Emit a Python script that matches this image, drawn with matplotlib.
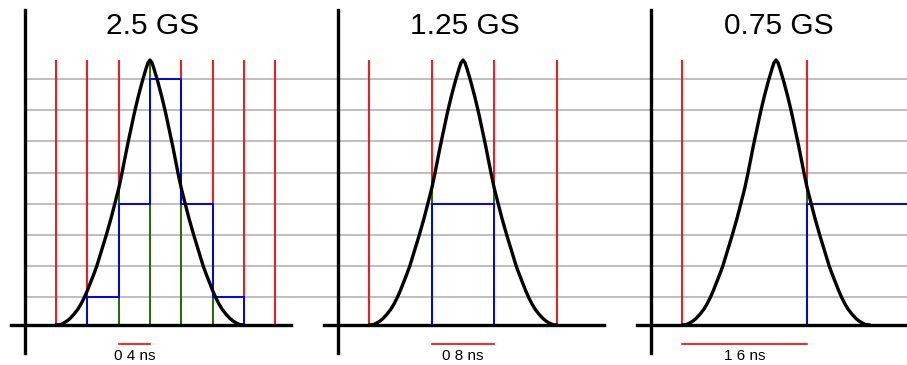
import numpy as np
import matplotlib
matplotlib.use('Agg')
import matplotlib.pyplot as plt

plt.rcParams['font.family'] = ['Liberation Sans', 'DejaVu Sans']

# panel texts
titles = ['2.5 GS', '1.25 GS', '0.75 GS']
scale_labels = ['0 4 ns', '0 8 ns', '1 6 ns']

# pulse shape (time in ns from the peak, amplitude / peak)
pulse_t = [-1.20, -1.14, -1.10, -1.06, -1.02, -0.97, -0.92, -0.88, -0.84, -0.80,
           -0.76, -0.72, -0.68, -0.62, -0.56, -0.50,
           -0.45, -0.40, -0.36, -0.29, -0.20, -0.15, -0.10, -0.05, -0.025, 0.00,
           0.025, 0.05, 0.10, 0.15, 0.20, 0.29, 0.36, 0.40, 0.45, 0.50,
           0.56, 0.62, 0.68, 0.72, 0.76, 0.80, 0.84, 0.88, 0.92, 0.97,
           1.02, 1.06, 1.10, 1.14, 1.20]
pulse_a = [0.000, 0.002, 0.008, 0.015, 0.025, 0.041, 0.060, 0.080, 0.103, 0.130,
           0.160, 0.190, 0.222, 0.280, 0.338, 0.400,
           0.457, 0.515, 0.570, 0.675, 0.800, 0.862, 0.918, 0.968, 0.990, 1.000,
           0.990, 0.968, 0.918, 0.862, 0.800, 0.675, 0.570, 0.515, 0.457, 0.400,
           0.338, 0.280, 0.222, 0.190, 0.160, 0.130, 0.103, 0.080, 0.060, 0.041,
           0.025, 0.015, 0.008, 0.002, 0.000]

# quantiser levels (gray lines)
gray_levels = [0.104, 0.222, 0.339, 0.457, 0.575, 0.693, 0.811, 0.929]

# sampling instants per panel
sample_times = [[-1.2, -0.8, -0.4, 0.0, 0.4, 0.8, 1.2, 1.6],
                [-1.2, -0.4, 0.4, 1.2],
                [-1.2, 0.4]]
# held (quantised) output: bin edges and level number
held_edges = [[-0.8, -0.4, 0.0, 0.4, 0.8, 1.2],
              [-0.4, 0.4],
              [0.4, 2.0]]
held_levels = [[1, 4, 8, 4, 1], [4], [4]]
# scale bar per panel (start, end) in ns
scale_bars = [(-0.4, 0.0), (-0.4, 0.4), (-1.2, 0.4)]

# layout in pixels
W, H = 907, 365
PX_NS = 78.3
PX_AMP = 265.0
BASE_Y = 325
peaks_px = [150, 463, 776]
edges_px = [0, 322, 635, 907]
AXIS_T = -1.6

fig = plt.figure(figsize=(W / 100, H / 100), dpi=100)

for i in range(3):
    left, right = edges_px[i], edges_px[i + 1]
    peak = peaks_px[i]
    ax = fig.add_axes([left / W, 0, (right - left) / W, 1])
    ax.set_xlim((left - peak) / PX_NS, (right - peak) / PX_NS)
    ax.set_ylim(-(H - BASE_Y) / PX_AMP, BASE_Y / PX_AMP)
    ax.axis('off')

    # gray quantiser lines
    x0 = AXIS_T if i == 0 else ax.get_xlim()[0]
    ax.hlines(gray_levels, x0, ax.get_xlim()[1], color='#bebebe', lw=1.4, zorder=1)

    # red sample lines
    ax.vlines(sample_times[i], 0, 1.0, color='#ff0000', lw=1.3, zorder=2)

    # green sampled values
    vals = np.interp(sample_times[i], pulse_t, pulse_a)
    ax.vlines(sample_times[i], 0, vals, color='#008000', lw=1.2, zorder=3)

    # blue held output
    lv = [gray_levels[k - 1] for k in held_levels[i]]
    ax.stairs(lv, held_edges[i], baseline=0, color='#0000ff', lw=1.4, zorder=4)

    # pulse
    ax.plot(pulse_t, pulse_a, color='black', lw=2.4, zorder=5,
            solid_joinstyle='round', solid_capstyle='round')

    # axes
    ax.plot([AXIS_T - 14 / PX_NS, AXIS_T + 266 / PX_NS], [0, 0], color='black', lw=2.4, zorder=6)
    ax.plot([AXIS_T, AXIS_T], [-0.106, 1.189], color='black', lw=2.4, zorder=6)

    # title
    ax.text(0.03, 1.097, titles[i], ha='center', va='baseline', fontsize=21.5)

    # scale bar
    a, b = scale_bars[i]
    ax.plot([a, b], [-0.072, -0.072], color='#ff0000', lw=1.2)
    ax.text((a + b) / 2, -0.132, scale_labels[i], ha='center', va='baseline', fontsize=11)

fig.savefig('out.png', dpi=100)
